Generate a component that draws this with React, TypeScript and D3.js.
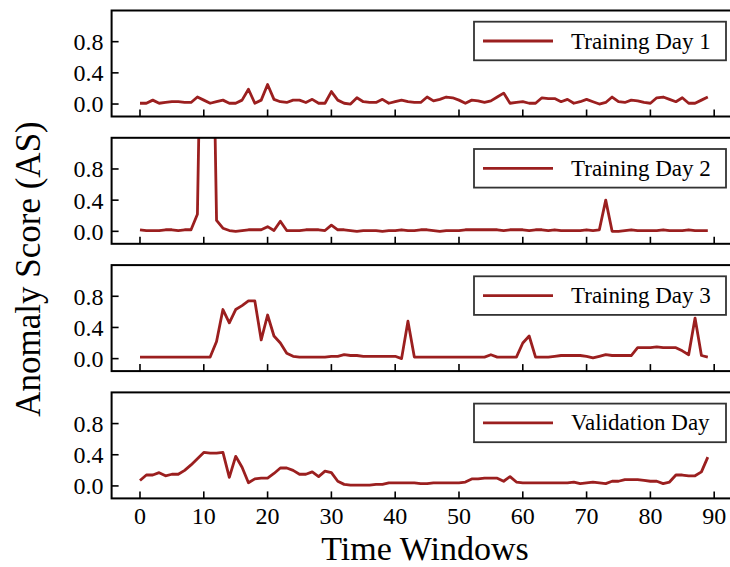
import React from "react";
import * as d3 from "d3";

// anomaly scores per time window (0..89)
const day1 = [
  0.01, 0.01, 0.05, 0.01, 0.02, 0.03, 0.03, 0.02, 0.02, 0.09,
  0.05, 0.01, 0.03, 0.05, 0.01, 0.01, 0.05, 0.19, 0.01, 0.05,
  0.25, 0.06, 0.03, 0.02, 0.05, 0.05, 0.02, 0.06, 0.01, 0.01,
  0.16, 0.05, 0.01, 0.0, 0.08, 0.03, 0.02, 0.02, 0.06, 0.01,
  0.03, 0.05, 0.03, 0.02, 0.02, 0.09, 0.04, 0.06, 0.09, 0.08,
  0.05, 0.01, 0.05, 0.04, 0.02, 0.04, 0.09, 0.14, 0.01, 0.02,
  0.03, 0.01, 0.01, 0.08, 0.07, 0.07, 0.03, 0.06, 0.01, 0.03,
  0.06, 0.03, 0.0, 0.02, 0.09, 0.03, 0.02, 0.05, 0.04, 0.02,
  0.01, 0.08, 0.09, 0.06, 0.03, 0.08, 0.01, 0.01, 0.05, 0.09,
];
const day2 = [
  0.02, 0.01, 0.01, 0.01, 0.02, 0.02, 0.01, 0.02, 0.02, 0.22,
  5.0, 5.0, 0.14, 0.04, 0.01, 0.0, 0.01, 0.02, 0.02, 0.02,
  0.06, 0.01, 0.13, 0.01, 0.01, 0.01, 0.02, 0.02, 0.02, 0.01,
  0.08, 0.02, 0.02, 0.01, 0.0, 0.01, 0.01, 0.01, 0.0, 0.01,
  0.01, 0.02, 0.01, 0.01, 0.02, 0.02, 0.01, 0.0, 0.01, 0.01,
  0.01, 0.02, 0.02, 0.02, 0.02, 0.02, 0.02, 0.01, 0.02, 0.02,
  0.02, 0.01, 0.02, 0.02, 0.01, 0.02, 0.01, 0.01, 0.01, 0.01,
  0.02, 0.01, 0.02, 0.4, 0.0, 0.0, 0.01, 0.02, 0.01, 0.01,
  0.01, 0.01, 0.02, 0.01, 0.01, 0.01, 0.02, 0.01, 0.01, 0.01,
];
const day3 = [
  0.02, 0.02, 0.02, 0.02, 0.02, 0.02, 0.02, 0.02, 0.02, 0.02,
  0.02, 0.02, 0.22, 0.63, 0.46, 0.63, 0.68, 0.74, 0.74, 0.24,
  0.56, 0.29, 0.2, 0.07, 0.03, 0.02, 0.02, 0.02, 0.02, 0.02,
  0.03, 0.03, 0.05, 0.04, 0.04, 0.03, 0.03, 0.03, 0.03, 0.03,
  0.03, 0.0, 0.48, 0.02, 0.02, 0.02, 0.02, 0.02, 0.02, 0.02,
  0.02, 0.02, 0.02, 0.02, 0.02, 0.05, 0.02, 0.02, 0.02, 0.02,
  0.2, 0.29, 0.02, 0.02, 0.02, 0.03, 0.04, 0.04, 0.04, 0.04,
  0.03, 0.01, 0.03, 0.05, 0.04, 0.04, 0.04, 0.04, 0.14, 0.14,
  0.14, 0.15, 0.14, 0.14, 0.14, 0.1, 0.05, 0.52, 0.04, 0.02,
];
const validation = [
  0.07, 0.14, 0.14, 0.17, 0.13, 0.15, 0.15, 0.2, 0.27, 0.35,
  0.43, 0.42, 0.42, 0.43, 0.11, 0.38, 0.24, 0.04, 0.09, 0.1,
  0.1, 0.16, 0.23, 0.23, 0.2, 0.15, 0.15, 0.18, 0.12, 0.19,
  0.17, 0.06, 0.02, 0.01, 0.01, 0.01, 0.01, 0.02, 0.02, 0.04,
  0.04, 0.04, 0.04, 0.04, 0.03, 0.03, 0.04, 0.04, 0.04, 0.04,
  0.04, 0.05, 0.09, 0.09, 0.1, 0.1, 0.1, 0.06, 0.12, 0.05,
  0.04, 0.04, 0.04, 0.04, 0.04, 0.04, 0.04, 0.04, 0.05, 0.03,
  0.04, 0.05, 0.04, 0.03, 0.06, 0.06, 0.08, 0.08, 0.08, 0.07,
  0.06, 0.06, 0.03, 0.05, 0.14, 0.14, 0.13, 0.13, 0.18, 0.37,
];

const seriesNames = ["Training Day 1", "Training Day 2", "Training Day 3", "Validation Day"];
const seriesData = [day1, day2, day3, validation];
const yTicks = [0.0, 0.4, 0.8];
const xTicks = [0, 10, 20, 30, 40, 50, 60, 70, 80, 90];

const W = 730;
const H = 567;
const font = "'Liberation Serif', 'Times New Roman', serif";
const lineColor = "#9b1f1f";

const left = 111.6;
const right = 736.2;
const top0 = 10.5;
const step = 127.3;
const panelH = 106;

const x = d3.scaleLinear().domain([-4.45, 93.45]).range([left, right]);

const App = () => {
  return (
    <svg width={W} height={H} style={{ position: "absolute", left: 0, top: 0 }}>
      <rect width={W} height={H} fill="#fff" />
      {seriesData.map((vals, p) => {
        const top = top0 + p * step;
        const bottom = top + panelH;
        const y = d3.scaleLinear().domain([-0.16, 1.2]).range([bottom, top]);
        const line = d3
          .line<number>()
          .x((_, i) => x(i))
          .y((d) => y(d));
        const clipId = `clip${p}`;
        const isLast = p === seriesData.length - 1;
        return (
          <g key={p}>
            <clipPath id={clipId}>
              <rect x={left} y={top} width={right - left} height={panelH} />
            </clipPath>
            <path
              d={line(vals) || ""}
              fill="none"
              stroke={lineColor}
              strokeWidth={2.8}
              strokeLinejoin="round"
              clipPath={`url(#${clipId})`}
            />
            {/* y ticks */}
            {yTicks.map((t) => (
              <g key={t}>
                <line x1={left} x2={left + 7} y1={y(t)} y2={y(t)} stroke="#000" strokeWidth={1.6} />
                <text
                  x={left - 8}
                  y={y(t)}
                  dy="0.35em"
                  textAnchor="end"
                  fontFamily={font}
                  fontSize={24}
                >
                  {t.toFixed(1)}
                </text>
              </g>
            ))}
            {/* x ticks */}
            {xTicks.map((t) => (
              <line key={t} x1={x(t)} x2={x(t)} y1={bottom} y2={bottom - 7} stroke="#000" strokeWidth={1.6} />
            ))}
            {isLast &&
              xTicks.map((t) => (
                <text
                  key={t}
                  x={x(t)}
                  y={bottom + 25.5}
                  textAnchor="middle"
                  fontFamily={font}
                  fontSize={24}
                >
                  {t}
                </text>
              ))}
            {/* frame */}
            <rect
              x={left}
              y={top}
              width={right - left}
              height={panelH}
              fill="none"
              stroke="#000"
              strokeWidth={2}
            />
            {/* legend */}
            <g transform={`translate(474,${top + 11.2})`}>
              <rect x={0} y={0} width={252} height={38.6} fill="#fff" stroke="#333" strokeWidth={1.8} />
              <line x1={9} x2={79} y1={19.3} y2={19.3} stroke={lineColor} strokeWidth={2.8} />
              <text x={97} y={19.3} dy="0.33em" fontFamily={font} fontSize={23}>
                {seriesNames[p]}
              </text>
            </g>
          </g>
        );
      })}
      <text
        transform="translate(40,269) rotate(-90)"
        textAnchor="middle"
        fontFamily={font}
        fontSize={35}
      >
        Anomaly Score (AS)
      </text>
      <text x={425} y={560} textAnchor="middle" fontFamily={font} fontSize={34}>
        Time Windows
      </text>
    </svg>
  );
};

export default App;
